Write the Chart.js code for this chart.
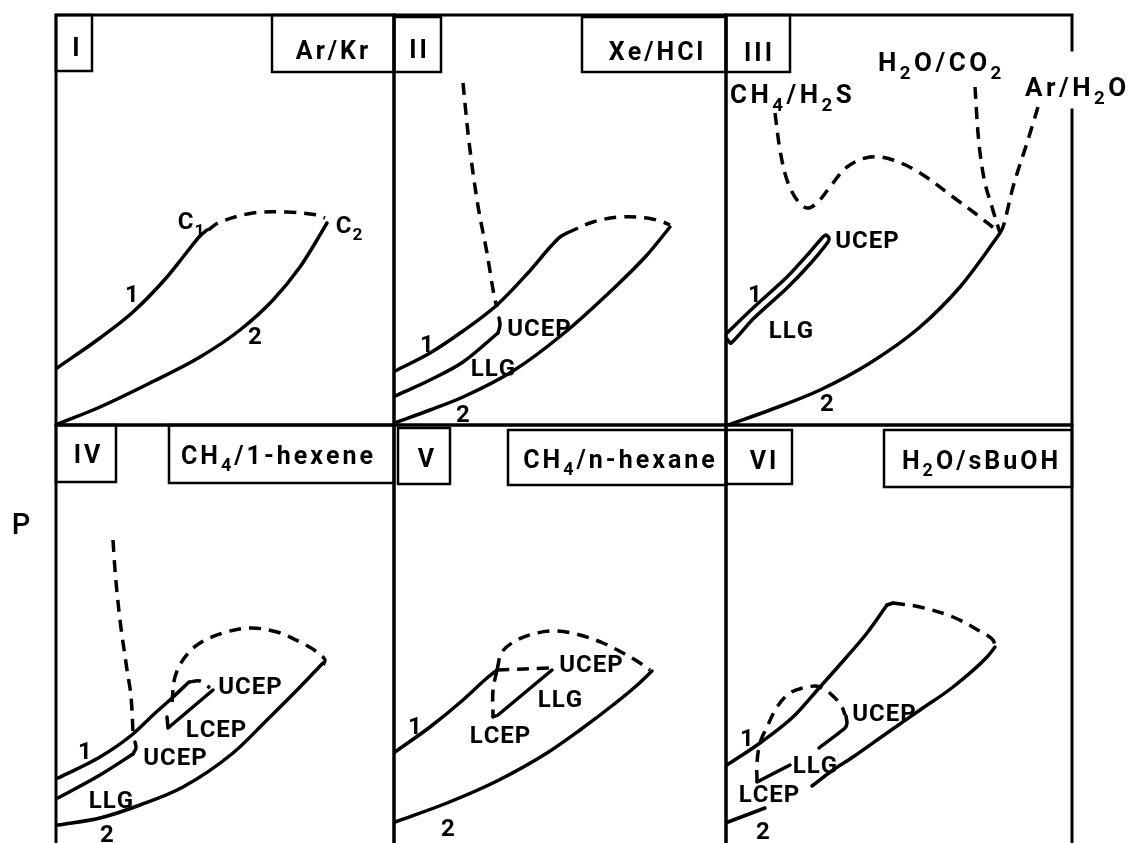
<!DOCTYPE html>
<html>
<head>
<meta charset="utf-8">
<title>Binary phase diagrams, types I-VI</title>
<script src="https://cdn.jsdelivr.net/npm/chart.js@4.4.1/dist/chart.umd.min.js"></script>
<style>
  html, body { margin: 0; padding: 0; background: #fff; }
  #figure { position: relative; width: 1131px; height: 843px; overflow: hidden; }
  #figure canvas { position: absolute; }
</style>
</head>
<body>
<div id="figure"></div>
<script>
// P-T projections, T and P in arbitrary units from each panel's lower-left corner

// Type I  (Ar/Kr)
const p1Vap1 = [[1,57],[44,87],[77,113],[111,148],[131,173],[144,189],[151,195]];
const p1Crit = [[152,195],[164,203],[197,212],[231,213],[261,210],[269,207]];
const p1Vap2 = [[2,1],[44,18],[94,42],[144,68],[184,95],[217,125],[244,158],[261,185],[271,202]];
const p1Labels = [['C_1',135,205],['C_2',293,201],['1',76,132],['2',199,90]];

// Type II  (Xe/HCl)
const p2CritLL = [[69,342],[74,292],[83,225],[93,172],[101,125],[103,118]];
const p2Vap1 = [[1,54],[36,72],[69,94],[103,120],[133,151],[158,180],[166,188],[173,192]];
const p2Crit = [[173,192],[199,203],[226,208],[253,207],[269,203],[276,200]];
const p2Vap2 = [[3,3],[36,15],[69,28],[119,54],[169,91],[219,136],[253,170],[276,198]];
const p2LLG = [[1,29],[36,45],[69,63],[104,92]];
const p2Hook = [[104,92],[106,100],[105,107]];
const p2Labels = [['UCEP',145,98],['LLG',99,58],['1',33,82],['2',69,12]];

// Type III  (CH4/H2S, H2O/CO2, Ar/H2O)
const p3Band = [[1,92],[27,117],[61,148],[84,173],[96,187],[100,190],[103,187],[102,183],[84,161],[61,137],[27,106],[5,82],[1,86]];
const p3Vap2 = [[2,0],[44,15],[94,35],[144,62],[194,98],[234,138],[257,168],[274,192]];
const p3CritA = [[49,312],[54,275],[61,245],[71,225],[81,217],[91,222],[104,238],[121,258],[144,268],[167,265],[194,252],[227,228],[254,208],[274,192]];
const p3CritB = [[249,338],[252,292],[257,252],[266,218],[274,192]];
const p3CritC = [[312,318],[301,282],[287,238],[277,198],[274,192]];
const p3Labels = [['UCEP',141,186],['LLG',65,96],['1',29,132],['2',101,23]];
const p3Systems = [['CH_4/H_2S',4,331],['H_2O/CO_2',152,363],['Ar/H_2O',299,338]];

// Type IV  (CH4/1-hexene)
const p4CritLL = [[57,303],[59,273],[64,223],[71,173],[76,133],[77,109]];
const p4Vap1 = [[2,65],[44,86],[77,109],[96,127],[116,145],[133,161]];
const p4CritShort = [[133,161],[144,162],[154,155]];
const p4CritArc = [[116,141],[119,166],[129,186],[144,200],[167,210],[194,215],[221,211],[244,201],[261,191],[269,183],[267,178]];
const p4Vap2 = [[2,18],[44,25],[84,38],[127,56],[177,90],[211,123],[244,156],[267,180]];
const p4LLGlow = [[2,45],[44,68],[77,89]];
const p4Hook = [[77,89],[80,95],[79,101]];
const p4LLGhigh = [[111,126],[112,115],[157,153]];
const p4Labels = [['UCEP',194,158],['LCEP',160,115],['UCEP',119,87],['LLG',55,44],['1',29,93],['2',51,10]];

// Type V  (CH4/n-hexane)
const p5Vap1 = [[1,91],[36,116],[69,143],[93,165],[103,173]];
const p5CritArc = [[103,173],[108,191],[123,203],[143,210],[163,212],[186,208],[209,200],[229,190],[246,180],[256,173]];
const p5CritFlat = [[103,173],[158,175]];
const p5CritDown = [[103,173],[99,153],[99,126]];
const p5LLG = [[99,126],[104,128],[158,173]];
const p5Vap2 = [[1,21],[53,40],[103,62],[153,90],[186,113],[219,138],[241,156],[258,172]];
const p5Labels = [['UCEP',197,180],['LLG',166,145],['LCEP',106,109],['1',21,118],['2',54,16]];

// Type VI  (H2O/sBuOH)
const p6Vap1 = [[1,78],[34,100],[68,127],[94,156],[118,183],[141,210],[161,238]];
const p6Corner = [[161,238],[167,240]];
const p6Crit = [[167,240],[194,236],[227,226],[257,210],[267,203],[269,196]];
const p6Vap2 = [[269,196],[261,186],[227,156],[194,133],[161,110],[127,86],[107,73],[86,57]];
const p6Vap2Low = [[2,21],[39,35]];
const p6CritArc = [[31,61],[31,80],[34,100],[41,116],[51,136],[64,150],[81,156],[94,156],[108,146],[116,136],[119,128]];
const p6LLGa = [[31,61],[64,78]];
const p6LLGb = [[93,95],[119,115],[121,120],[120,127]];
const p6Labels = [['UCEP',158,131],['LLG',89,79],['LCEP',43,50],['1',21,106],['2',37,13]];

const FONT = 'Roboto, "DejaVu Sans", sans-serif';

// text with "_x" subscripts, y is the middle of the capitals
function drawRich(ctx, text, x, y, size, spacing, align) {
  const toks = [];
  for (let i = 0; i < text.length; i++) {
    if (text[i] === '_') { toks.push({ c: text[i + 1], sub: true }); i++; }
    else toks.push({ c: text[i], sub: false });
  }
  let total = 0;
  toks.forEach((t, i) => {
    ctx.font = 'bold ' + (t.sub ? size * 0.72 : size) + 'px ' + FONT;
    t.w = ctx.measureText(t.c).width;
    total += t.w + (i < toks.length - 1 ? spacing : 0);
  });
  let cx = align === 'left' ? x : x - total / 2;
  const base = y + size * 0.355;
  ctx.textAlign = 'left';
  ctx.textBaseline = 'alphabetic';
  toks.forEach(t => {
    ctx.font = 'bold ' + (t.sub ? size * 0.72 : size) + 'px ' + FONT;
    ctx.fillText(t.c, cx, t.sub ? base + size * 0.3 : base);
    cx += t.w + spacing;
  });
}

const panels = [
  { left: 56, top: 15, w: 338, h: 410, pad: { left: 8, right: 8, top: 8, bottom: 8 }, closed: true,
    curves: [{ pts: p1Vap1, mono: true }, { pts: p1Crit, dash: true }, { pts: p1Vap2, mono: true }],
    labels: p1Labels,
    boxes: [{ x0: 0, y0: 0, x1: 36, y1: 56, text: 'I', tx: 20, ty: 32 },
            { x0: 216, y0: 0, x1: 338, y1: 57, text: 'Ar/Kr', tx: 276, ty: 35 }] },
  { left: 394, top: 15, w: 332, h: 410, pad: { left: 8, right: 8, top: 8, bottom: 8 }, closed: true,
    curves: [{ pts: p2CritLL, dash: true, mono: true }, { pts: p2Vap1, mono: true }, { pts: p2Crit, dash: true },
             { pts: p2Vap2, mono: true }, { pts: p2LLG, mono: true }, { pts: p2Hook, tension: 0.4 }],
    labels: p2Labels,
    boxes: [{ x0: 0, y0: 2, x1: 47, y1: 57, text: 'II', tx: 24, ty: 34 },
            { x0: 188, y0: 2, x1: 332, y1: 57, text: 'Xe/HCl', tx: 262, ty: 36 }] },
  { left: 726, top: 15, w: 346, h: 410, pad: { left: 8, right: 60, top: 8, bottom: 8 }, closed: true, rightGap: [315, 375],
    curves: [{ pts: p3Band, tension: 0.25 }, { pts: p3Vap2, mono: true }, { pts: p3CritA, dash: true },
             { pts: p3CritB, dash: true, mono: true }, { pts: p3CritC, dash: true, mono: true }],
    labels: p3Labels, systems: p3Systems,
    boxes: [{ x0: 0, y0: 0, x1: 64, y1: 57, text: 'III', tx: 32, ty: 37 }] },
  { left: 56, top: 425, w: 338, h: 418, pad: { left: 56, right: 8, top: 8, bottom: 0 }, closed: false,
    curves: [{ pts: p4CritLL, dash: true, mono: true }, { pts: p4Vap1, mono: true }, { pts: p4CritShort, dash: true },
             { pts: p4CritArc, dash: true }, { pts: p4Vap2, mono: true }, { pts: p4LLGlow, mono: true },
             { pts: p4Hook, tension: 0.4 }, { pts: p4LLGhigh, tension: 0 }],
    labels: p4Labels, axisTitle: { text: 'P', dx: -35, dy: 102 },
    boxes: [{ x0: 0, y0: 0, x1: 60, y1: 57, text: 'IV', tx: 31, ty: 29 },
            { x0: 113, y0: 0, x1: 338, y1: 58, text: 'CH_4/1-hexene', tx: 221, ty: 30 }] },
  { left: 394, top: 425, w: 332, h: 418, pad: { left: 8, right: 8, top: 8, bottom: 0 }, closed: false,
    curves: [{ pts: p5Vap1, mono: true }, { pts: p5CritArc, dash: true }, { pts: p5CritFlat, dash: true },
             { pts: p5CritDown, dash: true }, { pts: p5LLG, tension: 0 }, { pts: p5Vap2, mono: true }],
    labels: p5Labels,
    boxes: [{ x0: 4, y0: 3, x1: 56, y1: 59, text: 'V', tx: 32, ty: 33 },
            { x0: 114, y0: 5, x1: 332, y1: 60, text: 'CH_4/n-hexane', tx: 225, ty: 34 }] },
  { left: 726, top: 425, w: 346, h: 418, pad: { left: 8, right: 8, top: 8, bottom: 0 }, closed: false,
    curves: [{ pts: p6Vap1, mono: true }, { pts: p6Corner, tension: 0 }, { pts: p6Crit, dash: true },
             { pts: p6Vap2, mono: true }, { pts: p6Vap2Low, tension: 0 }, { pts: p6CritArc, dash: true },
             { pts: p6LLGa, tension: 0 }, { pts: p6LLGb, tension: 0.2 }],
    labels: p6Labels,
    boxes: [{ x0: 0, y0: 5, x1: 66, y1: 59, text: 'VI', tx: 37, ty: 35 },
            { x0: 158, y0: 5, x1: 346, y1: 62, text: 'H_2O/sBuOH', tx: 254, ty: 35 }] }
];

function decorPlugin(panel) {
  return {
    id: 'panelDecor',
    afterDatasetsDraw(chart) {
      const ctx = chart.ctx;
      const a = chart.chartArea;
      const xs = chart.scales.x, ys = chart.scales.y;
      ctx.save();
      ctx.strokeStyle = '#000';
      ctx.fillStyle = '#000';
      ctx.lineCap = 'square';
      ctx.lineWidth = 3;

      // frame
      ctx.beginPath();
      ctx.moveTo(a.left, a.bottom);
      ctx.lineTo(a.left, a.top);
      ctx.lineTo(a.right, a.top);
      if (panel.rightGap) {
        ctx.lineTo(a.right, ys.getPixelForValue(panel.rightGap[1]));
        ctx.moveTo(a.right, ys.getPixelForValue(panel.rightGap[0]));
      }
      ctx.lineTo(a.right, a.bottom);
      if (panel.closed) ctx.lineTo(a.left, a.bottom);
      ctx.stroke();

      // type number and system boxes
      ctx.lineWidth = 2.5;
      panel.boxes.forEach(b => {
        ctx.strokeRect(a.left + b.x0, a.top + b.y0, b.x1 - b.x0, b.y1 - b.y0);
        drawRich(ctx, b.text, a.left + b.tx, a.top + b.ty, 25, 3, 'center');
      });

      panel.labels.forEach(([t, x, y]) =>
        drawRich(ctx, t, xs.getPixelForValue(x), ys.getPixelForValue(y), 24, 1, 'center'));

      (panel.systems || []).forEach(([t, x, y]) =>
        drawRich(ctx, t, xs.getPixelForValue(x), ys.getPixelForValue(y), 26, 3.5, 'left'));

      if (panel.axisTitle) {
        ctx.font = '500 29px ' + FONT;
        ctx.textAlign = 'center';
        ctx.textBaseline = 'middle';
        ctx.fillText(panel.axisTitle.text, a.left + panel.axisTitle.dx, a.top + panel.axisTitle.dy);
      }
      ctx.restore();
    }
  };
}

const figure = document.getElementById('figure');
panels.forEach(panel => {
  const canvas = document.createElement('canvas');
  const cw = panel.w + panel.pad.left + panel.pad.right;
  const chh = panel.h + panel.pad.top + panel.pad.bottom;
  canvas.width = cw;
  canvas.height = chh;
  canvas.style.width = cw + 'px';
  canvas.style.height = chh + 'px';
  canvas.style.left = (panel.left - panel.pad.left) + 'px';
  canvas.style.top = (panel.top - panel.pad.top) + 'px';
  figure.appendChild(canvas);

  new Chart(canvas, {
    type: 'scatter',
    data: {
      datasets: panel.curves.map(c => ({
        data: c.pts.map(([x, y]) => ({ x, y })),
        showLine: true,
        borderColor: '#000',
        borderWidth: 3.5,
        borderDash: c.dash ? [12, 8] : [],
        borderCapStyle: c.dash ? 'butt' : 'round',
        borderJoinStyle: 'round',
        cubicInterpolationMode: c.mono ? 'monotone' : 'default',
        tension: c.mono ? 0.4 : (c.tension !== undefined ? c.tension : 0.35),
        pointRadius: 0,
        fill: false,
        clip: 8
      }))
    },
    options: {
      responsive: false,
      animation: false,
      events: [],
      layout: { padding: panel.pad },
      plugins: { legend: { display: false }, tooltip: { enabled: false } },
      scales: {
        x: { type: 'linear', display: false, min: 0, max: panel.w },
        y: { type: 'linear', display: false, min: 0, max: panel.h }
      }
    },
    plugins: [decorPlugin(panel)]
  });
});
</script>
</body>
</html>
